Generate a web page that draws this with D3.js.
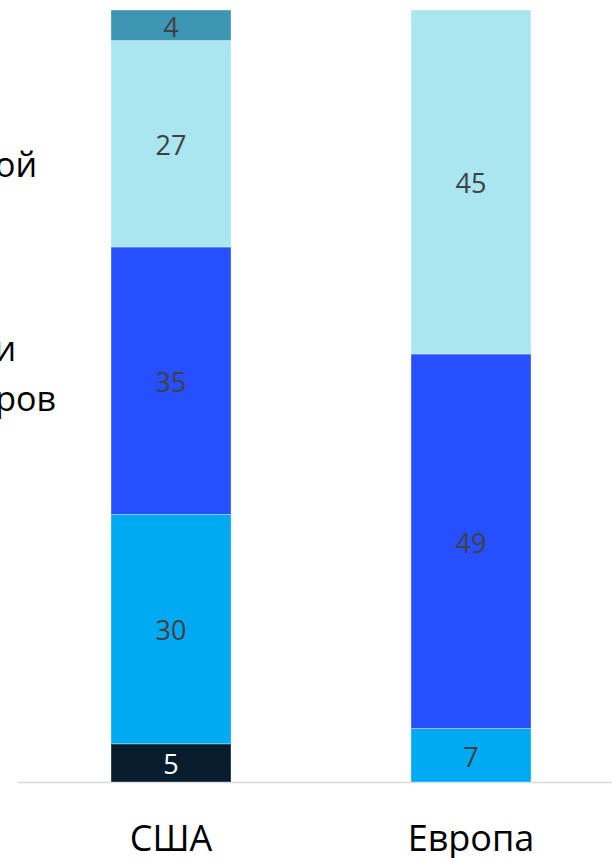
<!DOCTYPE html>
<html>
<head>
<meta charset="utf-8">
<script src="https://cdn.jsdelivr.net/npm/d3@7"></script>
<style>
  html, body { margin: 0; padding: 0; background: #fff; }
  svg { display: block; }
</style>
</head>
<body>
<svg id="chart" width="612" height="858"></svg>
<script>
const categories = ["США", "Европа"];
const seriesNames = ["s1", "s2", "s3", "s4", "s5"];
const seriesColors = ["#071d2e", "#00aaf2", "#2650ff", "#a9e6f0", "#3d95b4"];
const labelColors = ["#ffffff", "#404040", "#404040", "#404040", "#404040"];
const valuesUSA = [5, 30, 35, 27, 4];
const valuesEurope = [0, 7, 49, 45, 0];
const legendFragments = ["ой", "и", "ров"];

const svg = d3.select("#chart");
const W = 612, H = 858;
const baseY = 782, topY = 10;

const rows = categories.map((c, i) => {
  const vals = i === 0 ? valuesUSA : valuesEurope;
  const o = { cat: c };
  seriesNames.forEach((s, j) => o[s] = vals[j]);
  return o;
});

const stack = d3.stack().keys(seriesNames);
const stacked = stack(rows);

const x = d3.scaleBand().domain(categories).range([21, 621]).paddingInner(0.6).paddingOuter(0.3);
const y = d3.scaleLinear().domain([0, 101]).range([baseY, topY]);

// axis line
svg.append("line")
  .attr("x1", 18).attr("x2", W)
  .attr("y1", baseY + 0.5).attr("y2", baseY + 0.5)
  .attr("stroke", "#d9d9d9").attr("stroke-width", 1.5);

const groups = svg.selectAll("g.series").data(stacked).enter().append("g")
  .attr("class", "series")
  .attr("fill", (d, i) => seriesColors[i]);

groups.selectAll("rect").data(d => d.filter(p => p[1] - p[0] > 0)).enter().append("rect")
  .attr("x", d => x(d.data.cat))
  .attr("width", x.bandwidth())
  .attr("y", d => y(d[1]))
  .attr("height", d => y(d[0]) - y(d[1]))
  .attr("stroke", "rgba(255,255,255,0.35)")
  .attr("stroke-width", 1);

// value labels
stacked.forEach((layer, i) => {
  layer.forEach(p => {
    const v = p[1] - p[0];
    if (v <= 0) return;
    svg.append("text")
      .attr("x", x(p.data.cat) + x.bandwidth() / 2)
      .attr("y", (y(p[0]) + y(p[1])) / 2)
      .attr("dy", "0.42em")
      .attr("text-anchor", "middle")
      .attr("font-family", "'Open Sans', sans-serif")
      .attr("font-size", 27)
      .attr("fill", labelColors[i])
      .text(v);
  });
});

// category labels
svg.selectAll("text.cat").data(categories).enter().append("text")
  .attr("class", "cat")
  .attr("x", d => x(d) + x.bandwidth() / 2)
  .attr("y", 851)
  .attr("text-anchor", "middle")
  .attr("font-family", "'Open Sans', sans-serif")
  .attr("font-size", 36)
  .attr("fill", "#000")
  .text(d => d);

// clipped legend fragments (left edge of legend is outside the frame)
const legendPos = [[37, 177], [16, 361], [56, 411]];
svg.selectAll("text.leg").data(legendFragments).enter().append("text")
  .attr("class", "leg")
  .attr("x", (d, i) => legendPos[i][0])
  .attr("y", (d, i) => legendPos[i][1])
  .attr("text-anchor", "end")
  .attr("font-family", "'Open Sans', sans-serif")
  .attr("font-size", 34)
  .attr("fill", "#000")
  .text(d => d);
</script>
</body>
</html>
